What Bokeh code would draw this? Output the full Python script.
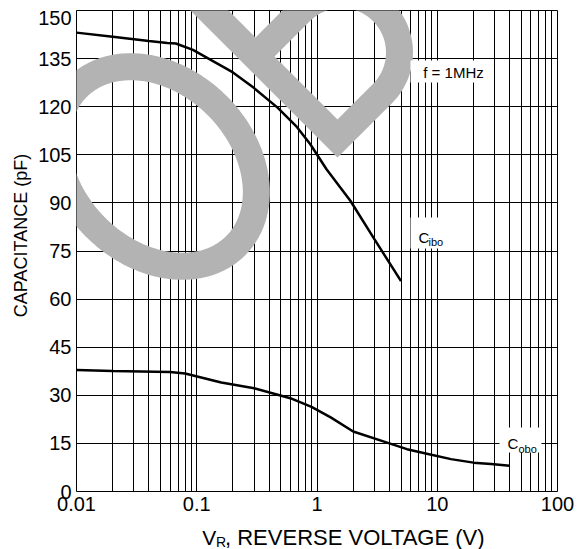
import numpy as np
from bokeh.plotting import figure
from bokeh.models import FixedTicker, Label, PolyAnnotation, BoxAnnotation
from bokeh.embed import file_html
from bokeh.resources import INLINE

# ---------------- data ----------------
vr_ibo = [0.01, 0.02, 0.04, 0.057, 0.067, 0.093, 0.2, 0.3, 0.47, 0.68, 0.88, 1.2, 1.9, 3.0, 5.0]
c_ibo = [143.1, 141.8, 140.5, 139.9, 139.7, 137.7, 130.7, 125.8, 119.7, 113.7, 108.3, 100.5, 90.6, 78.7, 65.6]

vr_obo = [0.01, 0.02, 0.06, 0.08, 0.16, 0.3, 0.6, 0.9, 1.3, 2.0, 4.0, 5.6, 8.2, 13, 20, 28, 40]
c_obo = [37.9, 37.6, 37.3, 36.8, 34.0, 32.2, 29.1, 26.4, 23.1, 18.7, 15.0, 13.2, 11.8, 10.1, 9.0, 8.6, 8.0]

x_ticks = [0.01, 0.1, 1, 10, 100]
x_tick_labels = ["0.01", "0.1", "1", "10", "100"]
x_minor = [m * d for d in [0.01, 0.1, 1, 10] for m in range(2, 10)]
y_ticks = [0, 15, 30, 45, 60, 75, 90, 105, 120, 135, 150]

X0, X1 = 0.01, 100.0
Y0, Y1 = 0.0, 150.0
FW = FH = 481
FONT = "Liberation Sans"

# helpers: reference page pixel -> data coordinates (frame at px 76..557, 10..491)
def px2x(px):
    return 10 ** (np.log10(X0) + (px - 76) / FW * np.log10(X1 / X0))

def py2y(py):
    return Y1 - (py - 10) / FH * (Y1 - Y0)

p = figure(x_axis_type="log", x_range=(X0, X1), y_range=(Y0, Y1),
           frame_width=FW, frame_height=FH,
           min_border_left=76, min_border_right=22, min_border_top=10, min_border_bottom=56,
           output_backend="svg", toolbar_location=None)
p.background_fill_color = "white"
p.border_fill_color = "white"
p.outline_line_color = "black"
p.outline_line_width = 1

p.xaxis.ticker = FixedTicker(ticks=x_ticks, minor_ticks=x_minor)
p.xaxis.major_label_overrides = {t: l for t, l in zip(x_ticks, x_tick_labels)}
p.yaxis.ticker = FixedTicker(ticks=y_ticks)
p.yaxis.major_label_overrides = {y_ticks[-1]: ""}   # top label is drawn a little lower, below

for ax in (p.xaxis, p.yaxis):
    ax.axis_line_color = None
    ax.major_tick_line_color = None
    ax.minor_tick_line_color = None
    ax.major_tick_out = 0
    ax.major_tick_in = 0
    ax.minor_tick_out = 0
    ax.major_label_text_font = FONT
    ax.major_label_text_font_size = "20px"
    ax.major_label_text_color = "black"
    ax.major_label_standoff = 5

p.xgrid.grid_line_color = "black"
p.xgrid.grid_line_width = 1
p.xgrid.minor_grid_line_color = "black"
p.xgrid.minor_grid_line_width = 1
p.ygrid.grid_line_color = "black"
p.ygrid.grid_line_width = 1

# ---------------- watermark (decoration, drawn above grid, below curves) ----------------
WM = "#b3b3b3"
t = np.linspace(0, 2 * np.pi, 121)
a_, b_, th = 112, 86, np.pi / 4
ex = 156 + a_ * np.cos(t) * np.cos(th) - b_ * np.sin(t) * np.sin(th)
ey = 166 + a_ * np.cos(t) * np.sin(th) + b_ * np.sin(t) * np.cos(th)
p.add_layout(PolyAnnotation(xs=[px2x(v) for v in ex], ys=[py2y(v) for v in ey],
                            fill_color=None, fill_alpha=0, line_color=WM, line_alpha=1,
                            line_width=27, line_join="round", level="glyph"), "left")

ang = np.radians(np.linspace(45, -135, 60))
dx = [170, 337] + list(341 + 58 * np.cos(ang)) + [255]
dy = [-29, 138] + list(52 + 58 * np.sin(ang)) + [56]
p.add_layout(PolyAnnotation(xs=[px2x(v) for v in dx], ys=[py2y(v) for v in dy],
                            fill_color=None, fill_alpha=0, line_color=WM, line_alpha=1,
                            line_width=27, line_join="miter", level="glyph"), "left")

# ---------------- curves ----------------
p.line(vr_ibo, c_ibo, line_color="black", line_width=2.5)
p.line(vr_obo, c_obo, line_color="black", line_width=2.5)

# ---------------- label boxes and texts ----------------
def box(l, r, t_, b):
    p.add_layout(BoxAnnotation(left=px2x(l), right=px2x(r), top=py2y(t_), bottom=py2y(b),
                               fill_color="white", fill_alpha=1, line_color=None))

def lab(px, py, text, size, align="left", baseline="alphabetic", angle=0, place="center"):
    lbl = Label(x=px2x(px), y=py2y(py), text=text, text_font=FONT,
                text_font_size=size, text_align=align, text_baseline=baseline,
                text_color="black", angle=angle)
    if place == "center":
        p.add_layout(lbl)
    else:
        p.add_layout(lbl, place)

box(410, 490, 60, 82)
lab(453, 72, "f = 1MHz", "15px", "center", "middle")

box(410, 452, 217, 248)
lab(418, 237, "C", "15px")
lab(428, 241, "ibo", "11px")

box(499, 541, 427, 452)
lab(507, 443, "C", "15px")
lab(518, 448, "obo", "11px")

# top y tick label, kept inside the page (placed via the bottom panel so it is not clipped)
lab(71, 17.5, str(y_ticks[-1]), "20px", "right", "middle", place="below")

# axis titles (in side panels so they are not clipped to the frame)
lab(20, 235, "CAPACITANCE (pF)", "18px", "center", "middle", np.pi / 2, place="left")
lab(201.7, 537, "V", "21px", place="below")
lab(215.5, 541, "R", "14px", place="below")
lab(224.5, 537, ", REVERSE VOLTAGE (V)", "22px", place="below")

open("out.html", "w").write(file_html(p, INLINE))
